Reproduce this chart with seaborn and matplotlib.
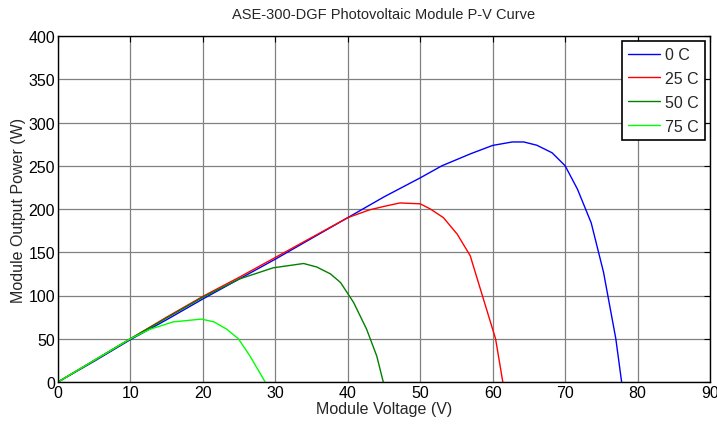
import matplotlib
matplotlib.use("Agg")
import matplotlib.pyplot as plt
import seaborn as sns
import pandas as pd

# ---- data ----
labels = ["0 C", "25 C", "50 C", "75 C"]
v_0c = [0, 5, 10, 15, 20, 25, 30, 35, 40, 45, 50, 53, 57, 60, 62.7, 64.3, 66.1, 68.2, 70, 71.7, 73.6, 75.3, 77, 77.8]
p_0c = [0, 24, 49, 72, 96, 119, 142, 166, 190, 214, 236, 250, 264, 273.5, 277.5, 277.5, 273.7, 265, 250, 223, 184, 127, 50, 0]
v_25c = [0, 5, 10, 15, 20, 25, 30, 35, 40, 43, 45, 47.2, 50, 51.4, 53.2, 55.1, 56.9, 58.5, 60.4, 61.4]
p_25c = [0, 25, 50, 75, 99, 121, 144, 167, 190, 199, 203, 207, 206, 200, 190, 171, 146, 102, 50, 0]
v_50c = [0, 5, 10, 15, 20, 25, 29.7, 33.9, 35.7, 37.6, 39, 40.8, 42.6, 44, 44.9]
p_50c = [0, 25, 50, 74, 98, 119, 132, 137, 133, 125, 115, 92, 61, 30, 0]
v_75c = [0, 5, 10, 12.7, 15.9, 19.8, 21.5, 23.3, 24.9, 26.5, 28.6]
p_75c = [0, 25, 50, 61, 69.5, 72.7, 69.6, 61, 50, 30, 0]
x_ticks = list(range(0, 91, 10))
y_ticks = list(range(0, 401, 50))
colors = ["#0000ff", "#ff0000", "#008000", "#00ff00"]

series = [(v_0c, p_0c), (v_25c, p_25c), (v_50c, p_50c), (v_75c, p_75c)]
frames = []
for lab, (v, p) in zip(labels, series):
    frames.append(pd.DataFrame({"V": v, "P": p, "T": lab}))
df = pd.concat(frames, ignore_index=True)

sns.set_theme(style="white")
plt.rcParams["font.family"] = ["Liberation Sans", "DejaVu Sans"]

fig = plt.figure(figsize=(7.17, 4.31), dpi=100)
ax = fig.add_axes([58 / 717, 1 - 383 / 431, (710 - 58) / 717, (383 - 37) / 431])

for lab, col in zip(labels, colors):
    sub = df[df["T"] == lab]
    sns.lineplot(data=sub, x="V", y="P", color=col, sort=False, estimator=None,
                 linewidth=1.0, ax=ax, label=lab)

ax.set_xlim(0, 90)
ax.set_ylim(0, 400)
ax.set_xticks(x_ticks)
ax.set_yticks(y_ticks)
ax.grid(True, color="#808080", linewidth=0.9, linestyle="-")
for s in ax.spines.values():
    s.set_color("black")
    s.set_linewidth(1.0)
ax.tick_params(direction="in", top=True, right=True, length=4, width=0.8,
               labelsize=11.5, colors="black", pad=2)
ax.set_xlabel("Module Voltage (V)", fontsize=11.5, labelpad=1)
ax.set_ylabel("Module Output Power (W)", fontsize=11.5, labelpad=2)
ax.set_title("ASE-300-DGF Photovoltaic Module P-V Curve", fontsize=10.5, pad=13)

leg = ax.legend(loc="upper right", fontsize=11.5, frameon=True, fancybox=False,
                edgecolor="black", framealpha=1, borderpad=0.4, labelspacing=0.55,
                handlelength=2.0, handletextpad=0.3, borderaxespad=0.3)
leg.get_frame().set_linewidth(1.2)

fig.savefig("out.png", dpi=100)
